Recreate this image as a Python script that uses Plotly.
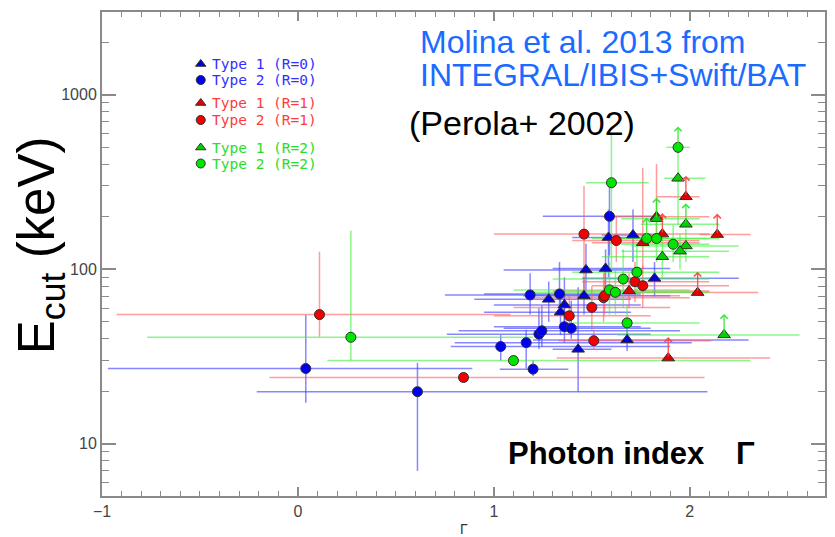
import numpy as np
import plotly.graph_objects as go

# ---------------- data (Gamma, Ecut [keV], error ranges) ----------------
# Blue: R=0, Type 2 (circles)
bc_gamma = [0.04, 0.61, 1.035, 1.165, 1.20, 1.23, 1.245, 1.185, 1.335, 1.36, 1.395, 1.59]
bc_ecut  = [27.0, 19.9, 36.1, 38.0, 26.8, 42.5, 44.4, 71.3, 72.2, 46.9, 45.9, 201]
bc_glo   = [-0.97, -0.21, 0.78, 0.80, 1.03, 0.76, 0.82, 0.75, 0.95, 1.00, 1.05, 1.25]
bc_ghi   = [0.89, 2.09, 1.90, 2.01, 1.38, 1.80, 1.95, 1.65, 1.75, 1.75, 1.80, 1.85]
bc_elo   = [17.2, 7.0, 30, 27, 24.5, 35, 36, 55, 55, 38, 40, 120]
bc_ehi   = [54.7, 29.1, 42, 45, 30, 60, 62, 95, 110, 70, 66, 330]

# Blue: R=0, Type 1 (triangles)
bt_gamma = [1.28, 1.46, 1.36, 1.34, 1.47, 1.57, 1.585, 1.71, 1.82, 1.68, 1.43]
bt_ecut  = [67.3, 70.6, 62.5, 56.8, 99, 101, 152, 157, 88.7, 39.4, 34.8]
bt_glo   = [0.90, 1.15, 1.00, 0.95, 1.05, 1.30, 1.40, 1.55, 1.45, 1.20, 1.30]
bt_ghi   = [1.70, 1.90, 1.75, 1.70, 1.75, 1.90, 1.75, 1.85, 2.25, 2.30, 1.60]
bt_elo   = [50, 55, 45, 42, 75, 78, 90, 110, 70, 34, 19.9]
bt_ehi   = [85, 90, 90, 75, 140, 130, 220, 220, 110, 46, 79]

# Red: R=1, Type 2 (circles)
rc_gamma = [0.11, 0.845, 1.46, 1.625, 1.50, 1.385, 1.56, 1.565, 1.51, 1.72, 1.76]
rc_ecut  = [55.0, 24.0, 159, 146, 60.5, 54.1, 68.8, 70.6, 39.0, 84.9, 80.5]
rc_glo   = [-0.925, -0.145, 1.00, 1.40, 1.10, 1.00, 1.20, 1.25, 1.33, 1.45, 1.50]
rc_ghi   = [1.085, 2.075, 1.80, 2.05, 1.90, 1.80, 2.00, 1.95, 2.11, 2.10, 2.20]
rc_elo   = [41.1, 23, 75, 110, 45, 42, 50, 55, 35, 65, 60]
rc_ehi   = [126, 25, 300, 200, 80, 70, 95, 100, 45, 110, 105]

# Red: R=1, Type 1 (triangles); lim=1 -> lower limit on Ecut
rt_gamma = [1.76, 1.83, 1.86, 1.98, 2.14, 2.04, 1.89, 1.69]
rt_ecut  = [142, 200, 159, 260, 158, 73.5, 31.0, 75.2]
rt_glo   = [1.50, 1.55, 1.70, 1.83, 2.05, 1.70, 1.32, 1.30]
rt_ghi   = [2.05, 2.10, 2.10, 2.05, 2.31, 2.35, 2.41, 2.10]
rt_elo   = [100, 150, 159, 260, 158, 73.5, 31.0, 60]
rt_ehi   = [380, 400, 159, 260, 158, 73.5, 31.0, 95]
rt_lim   = [0, 0, 1, 1, 1, 1, 1, 0]

# Green: R=2, Type 2 (circles)
gc_gamma = [0.27, 1.10, 1.68, 1.59, 1.62, 1.66, 1.73, 1.60, 1.78, 1.83, 1.915, 1.94]
gc_ecut  = [40.8, 30.0, 49.3, 76.2, 73.8, 87.9, 96.2, 313, 150, 150, 139, 499]
gc_glo   = [-0.77, 0.15, 1.40, 1.10, 1.20, 1.30, 1.40, 1.47, 1.50, 1.55, 1.65, 1.88]
gc_ghi   = [1.20, 2.31, 2.05, 2.00, 2.10, 2.10, 2.15, 1.79, 2.10, 2.15, 2.10, 2.00]
gc_elo   = [30, 28, 40, 55, 55, 60, 70, 100, 150, 110, 110, 499]
gc_ehi   = [166, 32, 62, 110, 100, 130, 140, 600, 150, 220, 180, 499]
gc_lim   = [0, 0, 0, 0, 0, 0, 0, 0, 1, 0, 0, 1]

# Green: R=2, Type 1 (triangles)
gt_gamma = [1.94, 1.98, 1.98, 1.95, 1.86, 2.175, 1.83]
gt_ecut  = [332, 181, 136, 127, 118, 42.1, 195]
gt_glo   = [1.87, 1.75, 1.70, 1.65, 1.55, 1.63, 1.65]
gt_ghi   = [2.08, 2.15, 2.25, 2.20, 2.10, 2.56, 2.05]
gt_elo   = [180, 181, 110, 100, 90, 42.1, 195]
gt_ehi   = [500, 181, 170, 160, 160, 42.1, 195]
gt_lim   = [0, 1, 0, 0, 0, 1, 1]

legend_labels = ["Type 1 (R=0)", "Type 2 (R=0)", "Type 1 (R=1)",
                 "Type 2 (R=1)", "Type 1 (R=2)", "Type 2 (R=2)"]

x_ticks = [-1, 0, 1, 2]
y_ticks = [10, 100, 1000]

# ---------------- styles ----------------
W, H = 835, 537
L, R, T, B = 102, 8, 12, 41
PW, PH = W - L - R, H - T - B
DEC_PX = 174.7            # pixels per decade on the y axis
ARROW_PX = 21

def pxx(x):
    return (x - L) / PW

def pxy(y):
    return (H - B - y) / PH

groups = [
    dict(g=bc_gamma, e=bc_ecut, glo=bc_glo, ghi=bc_ghi, elo=bc_elo, ehi=bc_ehi, lim=None,
         sym="circle", col="#0000f0", ecol="rgba(70,70,255,0.65)", acol="rgba(70,70,255,0.9)"),
    dict(g=bt_gamma, e=bt_ecut, glo=bt_glo, ghi=bt_ghi, elo=bt_elo, ehi=bt_ehi, lim=None,
         sym="triangle-up", col="#0000d8", ecol="rgba(70,70,255,0.65)", acol="rgba(70,70,255,0.9)"),
    dict(g=rc_gamma, e=rc_ecut, glo=rc_glo, ghi=rc_ghi, elo=rc_elo, ehi=rc_ehi, lim=None,
         sym="circle", col="#f00000", ecol="rgba(255,90,90,0.6)", acol="rgba(255,60,60,0.9)"),
    dict(g=rt_gamma, e=rt_ecut, glo=rt_glo, ghi=rt_ghi, elo=rt_elo, ehi=rt_ehi, lim=rt_lim,
         sym="triangle-up", col="#e00000", ecol="rgba(255,90,90,0.6)", acol="rgba(255,60,60,0.9)"),
    dict(g=gc_gamma, e=gc_ecut, glo=gc_glo, ghi=gc_ghi, elo=gc_elo, ehi=gc_ehi, lim=gc_lim,
         sym="circle", col="#00e600", ecol="rgba(60,240,60,0.6)", acol="rgba(40,230,40,0.9)"),
    dict(g=gt_gamma, e=gt_ecut, glo=gt_glo, ghi=gt_ghi, elo=gt_elo, ehi=gt_ehi, lim=gt_lim,
         sym="triangle-up", col="#00d000", ecol="rgba(60,240,60,0.6)", acol="rgba(40,230,40,0.9)"),
]

fig = go.Figure()
annotations = []

# error bars first (beneath all markers)
for gr in groups:
    g = np.array(gr["g"], dtype=float); e = np.array(gr["e"], dtype=float)
    fig.add_trace(go.Scatter(
        x=g, y=e, mode="markers",
        marker=dict(size=1, color="rgba(0,0,0,0)"),
        error_x=dict(type="data", symmetric=False,
                     array=np.array(gr["ghi"]) - g, arrayminus=g - np.array(gr["glo"]),
                     color=gr["ecol"], thickness=1.5, width=0),
        error_y=dict(type="data", symmetric=False,
                     array=np.array(gr["ehi"]) - e, arrayminus=e - np.array(gr["elo"]),
                     color=gr["ecol"], thickness=1.5, width=0),
        showlegend=False, hoverinfo="skip"))
    # lower-limit arrows (open arrow heads)
    if gr["lim"] is not None:
        for gi, ei, li in zip(gr["g"], gr["e"], gr["lim"]):
            if li:
                annotations.append(dict(
                    x=gi, y=np.log10(ei) + ARROW_PX / DEC_PX, xref="x", yref="y",
                    ax=0, ay=ARROW_PX, text="", showarrow=True, arrowhead=4,
                    arrowsize=1.1, arrowwidth=1.3, arrowcolor=gr["acol"]))

# markers
for gr in groups:
    fig.add_trace(go.Scatter(
        x=gr["g"], y=gr["e"], mode="markers",
        marker=dict(symbol=gr["sym"], size=10 if gr["sym"] == "circle" else 11,
                    color=gr["col"], line=dict(color="#303030", width=1)),
        showlegend=False))

# legend keys on a pixel-space overlay axis
leg_y = [64, 80, 103, 120, 147.5, 163.5]
leg_sym = ["triangle-up", "circle"] * 3
leg_col = ["#0000e0", "#0000f0", "#e00000", "#f00000", "#00d000", "#00e600"]
leg_tcol = ["#3030ff", "#3030ff", "#ff3c3c", "#ff3c3c", "#2cdc2c", "#2cdc2c"]
fig.add_trace(go.Scatter(
    x=[201] * 6, y=leg_y, mode="markers", xaxis="x2", yaxis="y2",
    marker=dict(symbol=leg_sym, size=9, color=leg_col,
                line=dict(color="#303030", width=1)),
    showlegend=False, hoverinfo="skip"))
for lab, yy, tc in zip(legend_labels, leg_y, leg_tcol):
    annotations.append(dict(x=pxx(210), y=pxy(yy), xref="paper", yref="paper",
                            text=lab, showarrow=False, xanchor="left", yanchor="middle",
                            font=dict(family="DejaVu Sans Mono", size=14.5, color=tc)))

# text annotations
annotations += [
    dict(x=pxx(419), y=pxy(42), xref="paper", yref="paper", text="Molina et al. 2013 from",
         showarrow=False, xanchor="left", yanchor="middle",
         font=dict(family="Liberation Sans", size=32, color="#1a6bff")),
    dict(x=pxx(419), y=pxy(75), xref="paper", yref="paper", text="INTEGRAL/IBIS+Swift/BAT",
         showarrow=False, xanchor="left", yanchor="middle",
         font=dict(family="Liberation Sans", size=32, color="#1a6bff")),
    dict(x=pxx(408), y=pxy(123), xref="paper", yref="paper", text="(Perola+ 2002)",
         showarrow=False, xanchor="left", yanchor="middle",
         font=dict(family="Liberation Sans", size=34, color="#000000")),
    dict(x=pxx(507), y=pxy(453), xref="paper", yref="paper", text="<b>Photon index</b>",
         showarrow=False, xanchor="left", yanchor="middle",
         font=dict(family="Liberation Sans", size=31, color="#000000")),
    dict(x=pxx(736), y=pxy(453), xref="paper", yref="paper", text="<b>Γ</b>",
         showarrow=False, xanchor="left", yanchor="middle",
         font=dict(family="Liberation Sans", size=31, color="#000000")),
    dict(x=pxx(40), y=pxy(245), xref="paper", yref="paper",
         text="E<sub>cut</sub> (keV)", textangle=-90,
         showarrow=False, xanchor="center", yanchor="middle",
         font=dict(family="Liberation Sans", size=51, color="#000000")),
    dict(x=pxx(465), y=pxy(529), xref="paper", yref="paper", text="Γ",
         showarrow=False, xanchor="center", yanchor="middle",
         font=dict(family="Liberation Sans", size=14, color="#333333")),
]

axis_col = "#8a8a8a"
fig.update_layout(
    width=W, height=H,
    margin=dict(l=L, r=R, t=T, b=B, pad=0),
    plot_bgcolor="white", paper_bgcolor="white",
    showlegend=False,
    annotations=annotations,
    xaxis=dict(range=[-1, 2.69], tickvals=x_ticks, ticktext=["\u22121", "0", "1", "2"],
               ticks="inside", ticklen=9, tickwidth=1.5, tickcolor=axis_col,
               minor=dict(dtick=0.1, ticks="inside", ticklen=5, tickwidth=1.2,
                          tickcolor=axis_col, showgrid=False),
               showline=True, linecolor=axis_col, linewidth=2, mirror="allticks",
               showgrid=False, zeroline=False,
               tickfont=dict(family="Liberation Sans", size=16, color="#444444")),
    yaxis=dict(type="log", range=[np.log10(5.03), np.log10(2974)],
               tickvals=y_ticks, ticktext=[str(v) for v in y_ticks],
               ticks="inside", ticklen=14, tickwidth=1.5, tickcolor=axis_col,
               minor=dict(tickvals=[k * 10 ** d for d in range(0, 4) for k in range(2, 10)],
                          ticks="inside", ticklen=7, tickwidth=1.2,
                          tickcolor=axis_col, showgrid=False),
               showline=True, linecolor=axis_col, linewidth=2, mirror="allticks",
               showgrid=False, zeroline=False,
               tickfont=dict(family="Liberation Sans", size=16, color="#444444")),
    xaxis2=dict(range=[L, W - R], overlaying="x", anchor="y2", visible=False),
    yaxis2=dict(range=[H - B, T], overlaying="y", anchor="x2", visible=False),
)

fig.write_html("out.html")
